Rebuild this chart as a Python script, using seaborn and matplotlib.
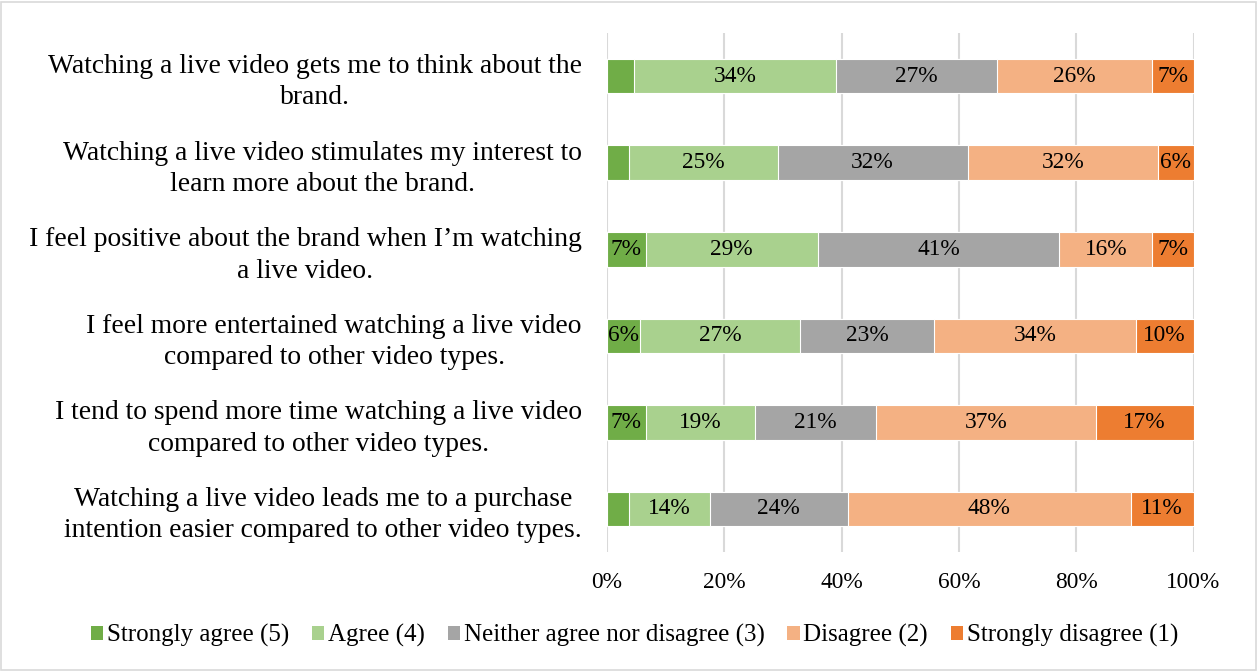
import numpy as np
import pandas as pd
import seaborn as sns
import matplotlib.pyplot as plt
from matplotlib.patches import Patch, Rectangle

# Survey statements (top to bottom)
statements = [
    "Watching a live video gets me to think about the\nbrand.",
    "Watching a live video stimulates my interest to\nlearn more about the brand.",
    "I feel positive about the brand when I\u2019m watching\na live video.",
    "I feel more entertained watching a live video\ncompared to other video types.",
    "I tend to spend more time watching a live video\ncompared to other video types.",
    "Watching a live video leads me to a purchase\nintention easier compared to other video types.",
]

# Response shares (%) per statement
strongly_agree = [4.7, 3.7, 6.6, 5.6, 6.6, 3.7]
agree = [34.4, 25.4, 29.4, 27.4, 18.7, 13.8]
neither = [27.4, 32.4, 41.1, 22.8, 20.6, 23.6]
disagree = [26.4, 32.4, 15.9, 34.4, 37.4, 48.2]
strongly_disagree = [7.1, 6.1, 7.0, 9.8, 16.7, 10.7]

series_names = [
    "Strongly agree (5)",
    "Agree (4)",
    "Neither agree nor disagree (3)",
    "Disagree (2)",
    "Strongly disagree (1)",
]
series_colors = ["#70AD47", "#A9D18E", "#A5A5A5", "#F4B183", "#ED7D31"]
x_ticks = [0, 20, 40, 60, 80, 100]

sns.set_style("white")
plt.rcParams["font.family"] = ["Liberation Serif", "DejaVu Serif"]
plt.rcParams["text.color"] = "black"
plt.rcParams["xtick.color"] = "black"
plt.rcParams["ytick.color"] = "black"

values = np.array([strongly_agree, agree, neither, disagree, strongly_disagree])
cumulative = np.cumsum(values, axis=0)

df = pd.DataFrame({"statement": statements})
for i, name in enumerate(series_names):
    df[name] = cumulative[i]

fig = plt.figure(figsize=(12.59, 6.71), dpi=100)
ax = fig.add_axes([0.482, 0.177, 0.466, 0.774])

# Stacked bars: draw cumulative totals from the outermost segment inwards
for i in range(len(series_names) - 1, -1, -1):
    sns.barplot(
        data=df, x=series_names[i], y="statement", order=statements,
        orient="h", color=series_colors[i], width=0.4, saturation=1,
        edgecolor="white", linewidth=0.8, ax=ax,
    )

# Segment value labels
for i in range(len(series_names)):
    starts = cumulative[i] - values[i]
    for row, (s, v) in enumerate(zip(starts, values[i])):
        if v >= 5:
            ax.text(s + v / 2, row, f"{v:.0f}%", ha="center", va="center",
                    fontsize=16.8, color="black")

ax.set_xlim(0, 100)
ax.set_xticks(x_ticks)
ax.set_xticklabels([f"{t}%" for t in x_ticks], fontsize=16.8)
ax.set_ylim(len(statements) - 0.5, -0.5)
ax.set_yticks(range(len(statements)))
ax.set_yticklabels(statements, fontsize=19.9, multialignment="center",
                   linespacing=1.33)
ax.set_xlabel("")
ax.set_ylabel("")
ax.tick_params(axis="x", length=0, pad=14)
ax.tick_params(axis="y", length=0, pad=18)
for sp in ax.spines.values():
    sp.set_visible(False)
ax.grid(axis="x", color="#D9D9D9", linewidth=1.5)
ax.set_axisbelow(True)

handles = [Patch(facecolor=c, edgecolor="none", label=n)
           for n, c in zip(series_names, series_colors)]
fig.legend(handles=handles, loc="center", bbox_to_anchor=(0.504, 0.053),
           ncol=5, frameon=False, fontsize=18, handlelength=0.5,
           handleheight=0.5, handletextpad=0.15, columnspacing=0.9)

# Light frame around the chart
fig.patches.append(Rectangle((0.001, 0.002), 0.997, 0.995, transform=fig.transFigure,
                             fill=False, edgecolor="#D9D9D9", linewidth=1.2))

fig.savefig("out.png", dpi=100)
